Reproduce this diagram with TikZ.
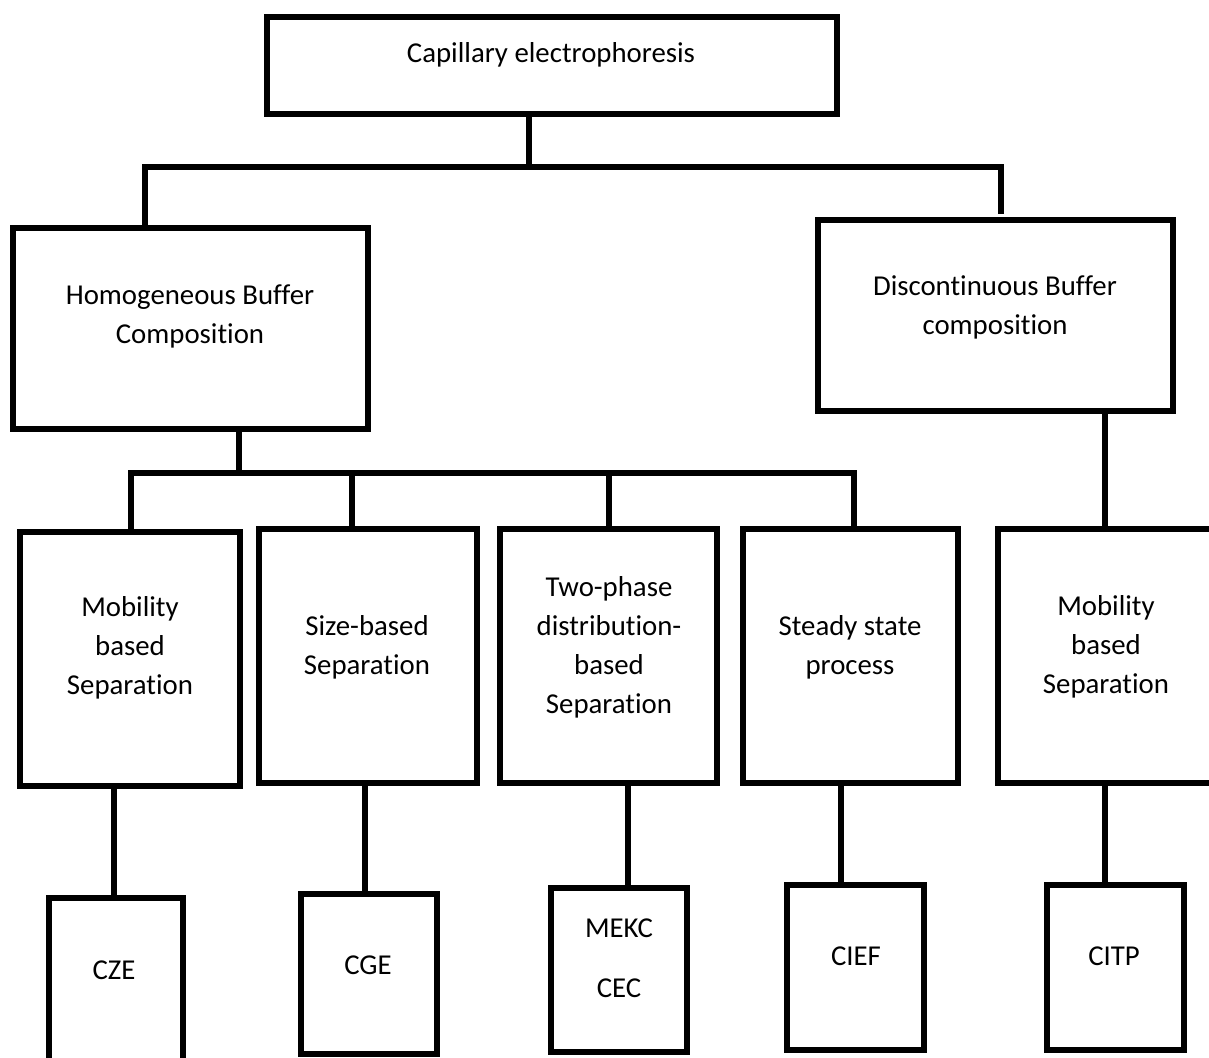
\documentclass[tikz,border=0pt]{standalone}
\usepackage{fontspec}
\setmainfont[Ligatures=NoCommon]{Carlito}
\begin{document}
\begin{tikzpicture}[x=1pt,y=-1pt,
  box/.style={draw=black,line width=6pt,rectangle,inner sep=0pt},
  txt/.style={align=center,font=\fontsize{28.8}{39}\selectfont,inner sep=0pt},
  conn/.style={draw=black,line width=6pt},
  bar/.style={draw=black,line width=6.5pt,line cap=rect}]
\useasboundingbox (0,0) rectangle (1209,1057);
\fill[white] (0,0) rectangle (1209,1057);
\begin{scope}
\clip (0,0) rectangle (1209,1057);
% boxes
\node[box,minimum width=570pt,minimum height=97pt] (top) at (552,65.5) {};
\node[box,minimum width=355pt,minimum height=201pt] (homo) at (190.5,328.5) {};
\node[box,minimum width=355pt,minimum height=191pt] (disc) at (995.5,315.5) {};
\node[box,minimum width=220pt,minimum height=254pt] (mob1) at (130,659) {};
\node[box,minimum width=218pt,minimum height=254pt] (size) at (368,656) {};
\node[box,minimum width=217pt,minimum height=254pt] (two) at (608.5,656) {};
\node[box,minimum width=215pt,minimum height=254pt] (steady) at (850.5,656) {};
\node[box,minimum width=218pt,minimum height=254pt] (mob2) at (1107,656) {};
\node[box,minimum width=134pt,minimum height=168pt] (cze) at (115.5,982) {};
\node[box,minimum width=136pt,minimum height=160pt] (cge) at (368.5,973.5) {};
\node[box,minimum width=136pt,minimum height=164pt] (mekc) at (618.5,969.5) {};
\node[box,minimum width=137pt,minimum height=165pt] (cief) at (855,967) {};
\node[box,minimum width=137pt,minimum height=165pt] (citp) at (1115,967) {};
% texts
\node[txt] (topT) at (551,55) {Capillary electrophoresis};
\node[txt] (homoT) at (190,316) {Homogeneous Buffer\\Composition};
\node[txt] (discT) at (995,307) {Discontinuous Buffer\\composition};
\node[txt] (mob1T) at (130,648) {Mobility\\based\\Separation};
\node[txt] (sizeT) at (367,647) {Size-based\\Separation};
\node[txt] (twoT) at (609,647) {Two-phase\\distribution-\\based\\Separation};
\node[txt] (steadyT) at (850,647) {Steady state\\process};
\node[txt] (mob2T) at (1106,647) {Mobility\\based\\Separation};
\node[txt] (czeT) at (114,970) {CZE};
\node[txt] (cgeT) at (368,965) {CGE};
\node[txt,font=\fontsize{28.8}{60}\selectfont] (mekcT) at (619,958) {MEKC\\CEC};
\node[txt] (ciefT) at (856,956) {CIEF};
\node[txt] (citpT) at (1114,956) {CITP};
% junction coordinates
\coordinate (j1) at (529,167);
\coordinate (bL) at (145,167);
\coordinate (bR) at (1001,167);
\coordinate (j2) at (239,473);
\coordinate (cL) at (131,473);
\coordinate (cR) at (854,473);
\coordinate (d2) at (352,473);
\coordinate (d3) at (609,473);
\coordinate (s1) at (114,0);
\coordinate (s2) at (365,0);
\coordinate (s3) at (628,0);
\coordinate (s4) at (841,0);
\coordinate (s5) at (1105,0);
% level 1
\draw[conn] (top.south -| j1) -- (j1);
\draw[bar] (bL) -- (bR);
\draw[conn] (bL) -- (homo.north -| bL);
\draw[conn] (bR) -- ([yshift=3pt]disc.north -| bR);
% level 2
\draw[conn] (homo.south -| j2) -- (j2);
\draw[bar] (cL) -- (cR);
\draw[conn] (cL) -- (mob1.north -| cL);
\draw[conn] (d2) -- (size.north -| d2);
\draw[conn] (d3) -- (two.north -| d3);
\draw[conn] (cR) -- (steady.north -| cR);
\draw[conn] (disc.south -| s5) -- (mob2.north -| s5);
% level 3
\draw[conn] (mob1.south -| s1) -- (cze.north -| s1);
\draw[conn] (size.south -| s2) -- (cge.north -| s2);
\draw[conn] (two.south -| s3) -- (mekc.north -| s3);
\draw[conn] (steady.south -| s4) -- (cief.north -| s4);
\draw[conn] (mob2.south -| s5) -- (citp.north -| s5);
\end{scope}
\end{tikzpicture}
\end{document}
